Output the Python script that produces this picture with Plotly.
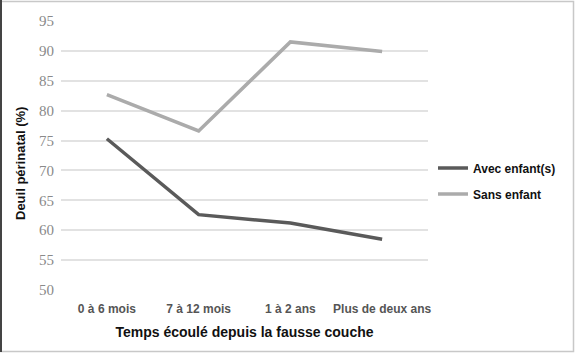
import plotly.graph_objects as go

categories = ["0 à 6 mois", "7 à 12 mois", "1 à 2 ans", "Plus de deux ans"]
avec_enfants = [75.3, 62.6, 61.2, 58.5]
sans_enfant = [82.7, 76.6, 91.5, 89.9]
y_ticks = [50, 55, 60, 65, 70, 75, 80, 85, 90, 95]

W, H = 575, 353
ml, mr, mt, mb = 61, 147, 21, 63

fig = go.Figure()
fig.add_trace(go.Scatter(x=categories, y=avec_enfants, mode="lines", name="Avec enfant(s)",
                         legendgroup="a", line=dict(color="#5a5a5a", width=3.5)))
fig.add_trace(go.Scatter(x=categories, y=sans_enfant, mode="lines", name="Sans enfant",
                         legendgroup="b", line=dict(color="#ababab", width=3.5)))

pw, ph = W - ml - mr, H - mt - mb
def px(x): return (x - ml) / pw
def py(y): return (H - mb - y) / ph

fig.update_layout(
    width=W, height=H,
    margin=dict(l=ml, r=mr, t=mt, b=mb),
    paper_bgcolor="white", plot_bgcolor="white",
    showlegend=True,
    legend=dict(x=px(433), y=py(181), xanchor="left", yanchor="middle",
                font=dict(family="Liberation Sans, Arial", size=12, color="#111", weight="bold"),
                tracegroupgap=7, bgcolor="rgba(0,0,0,0)", borderwidth=0),
    xaxis=dict(showgrid=False, showline=False, zeroline=False, ticks="", ticklabelstandoff=10,
               tickfont=dict(family="Liberation Sans, Arial", size=12, color="#555", weight="bold"),
               title=dict(text="Temps écoulé depuis la fausse couche", standoff=12,
                          font=dict(family="Liberation Sans, Arial", size=14, color="#111", weight="bold")),
               range=[-0.5, 3.5]),
    yaxis=dict(range=[50, 95], tickvals=y_ticks, showgrid=True, gridcolor="#e2e2e2", gridwidth=1.5,
               zeroline=False, showline=False, ticks="", ticklabelstandoff=6,
               tickfont=dict(family="Liberation Serif, Times New Roman", size=15, color="#8a8a8a")),
)

fig.add_annotation(text="Deuil périnatal (%)", textangle=-90, showarrow=False,
                   xref="paper", yref="paper", x=px(20), y=py(164),
                   xanchor="center", yanchor="middle",
                   font=dict(family="Liberation Sans, Arial", size=13, color="#111", weight="bold"))

fig.add_shape(type="rect", xref="paper", yref="paper",
              x0=px(1), x1=px(573.5), y0=py(351.5), y1=py(1.5),
              line=dict(color="#c8c8c8", width=1.5), layer="below")
fig.add_shape(type="line", xref="paper", yref="paper",
              x0=px(1), x1=px(1), y0=py(352), y1=py(0),
              line=dict(color="#444", width=2))

fig.write_html("out.html")
